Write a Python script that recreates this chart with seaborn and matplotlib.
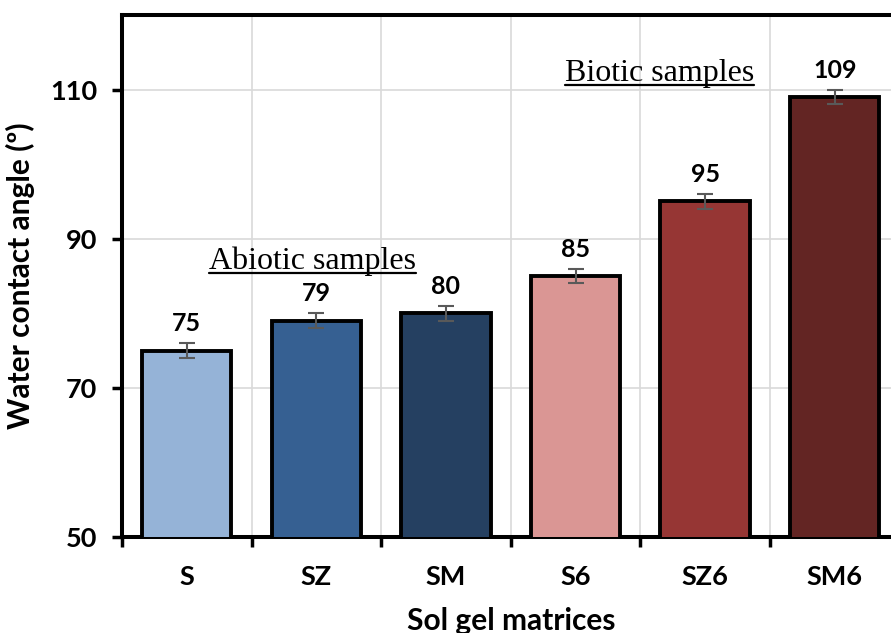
import matplotlib
matplotlib.use("Agg")
import matplotlib.pyplot as plt
from matplotlib.container import BarContainer
import numpy as np
import pandas as pd
import seaborn as sns

samples = ["S", "SZ", "SM", "S6", "SZ6", "SM6"]
angles = [75, 79, 80, 85, 95, 109]
errors = [1, 1, 1, 1, 1, 1]
colors = ["#95B3D7", "#366092", "#254061", "#DA9694", "#963634", "#632523"]


def underline(fig, ax, txt, gap=4.5):
    # line under the text, a few pixels below its baseline
    fig.canvas.draw()
    bb = txt.get_window_extent()
    base = ax.transData.transform(txt.get_position())[1]
    inv = fig.transFigure.inverted()
    x0, y0 = inv.transform((bb.x0, base - gap))
    x1, _ = inv.transform((bb.x1, base - gap))
    fig.add_artist(plt.Line2D([x0, x1], [y0, y0], color="black", linewidth=1.6,
                              transform=fig.transFigure))


if __name__ == "__main__":
    sns.set_theme(style="whitegrid")
    plt.rcParams['font.family'] = ['Lato', 'DejaVu Sans']

    df = pd.DataFrame({'sample': samples, 'angle': angles})

    fig = plt.figure(figsize=(8.91, 6.33), dpi=100)
    ax = fig.add_axes([0.1369, 0.1517, 0.8727, 0.8246])

    sns.barplot(x="sample", y="angle", data=df, hue="sample", palette=colors,
                legend=False, edgecolor="black", linewidth=2.8, width=0.69,
                saturation=1, ax=ax, zorder=3)
    for c in ax.containers:
        if isinstance(c, BarContainer):
            ax.bar_label(c, padding=11, fontsize=18, fontweight="bold", color="black")
    ax.errorbar(np.arange(len(samples)), angles, yerr=errors, fmt="none",
                ecolor="#595959", elinewidth=1.5, capsize=6, capthick=1.5, zorder=4)

    ax.set_ylim(50, 120)
    ax.set_xlim(-0.5, 5.5)
    ax.set_yticks([50, 70, 90, 110])
    ax.set_xticks(np.arange(-0.5, 6, 1), minor=True)
    ax.grid(False)
    ax.grid(True, axis="y", which="major", color="#D9D9D9", linewidth=1.2, zorder=0)
    ax.grid(True, axis="x", which="minor", color="#D9D9D9", linewidth=1.2, zorder=0)
    ax.set_axisbelow(True)

    for s in ["left", "bottom", "top", "right"]:
        ax.spines[s].set_visible(True)
        ax.spines[s].set_color("black")
        ax.spines[s].set_linewidth(2.9)

    ax.tick_params(axis="y", which="major", length=7, width=2.5, color="black",
                   direction="out", left=True, pad=11)
    ax.tick_params(axis="x", which="major", length=0, pad=20)
    ax.tick_params(axis="x", which="minor", length=7, width=2.5, color="black",
                   direction="out", bottom=True)
    for lab in ax.get_xticklabels() + ax.get_yticklabels():
        lab.set_fontsize(19.5)
        lab.set_fontweight("bold")
        lab.set_color("black")

    ax.set_xlabel("Sol gel matrices", fontsize=21.5, fontweight="bold", color="black", labelpad=13)
    ax.set_ylabel("Water contact angle (º)", fontsize=21.5, fontweight="bold", color="black", labelpad=11)

    t1 = ax.text(0.97, 86.0, "Abiotic samples", fontsize=23, family="Liberation Serif",
                 ha="center", va="baseline", color="black")
    t2 = ax.text(3.65, 111.2, "Biotic samples", fontsize=23, family="Liberation Serif",
                 ha="center", va="baseline", color="black")
    for t in (t1, t2):
        underline(fig, ax, t)

    plt.savefig("out.png", dpi=100)
